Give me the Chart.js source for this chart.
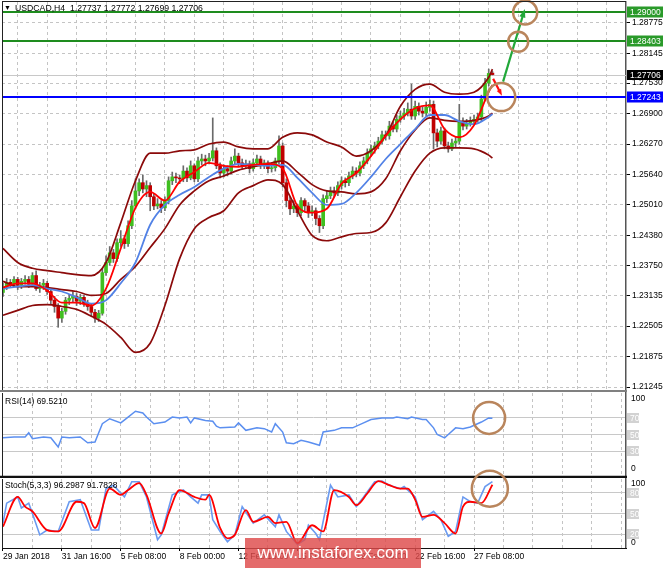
<!DOCTYPE html>
<html><head><meta charset="utf-8">
<script src="https://cdn.jsdelivr.net/npm/chart.js@4.4.1/dist/chart.umd.min.js"></script>
<style>
html,body{margin:0;padding:0;background:#fff;}
#wrap{position:relative;width:665px;height:568px;overflow:hidden;background:#fff;}
canvas{position:absolute;left:0;}
#wm{position:absolute;left:245px;top:538px;width:176px;height:30px;background:rgba(222,74,74,0.82);color:#fff;font:17px 'Liberation Sans',Arial,sans-serif;text-align:center;line-height:30px;}
</style></head>
<body><div id="wrap">
<canvas id="cMain" width="665" height="392" style="top:0"></canvas>
<canvas id="cRsi" width="665" height="86" style="top:391px"></canvas>
<canvas id="cSto" width="665" height="108" style="top:460px"></canvas>
<div id="wm">www.instaforex.com</div>
</div>
<script>
// ---------------- DATA ----------------
const symbolTitle = 'USDCAD,H4  1.27737 1.27772 1.27699 1.27706';
const timeLabels = ['29 Jan 2018','31 Jan 16:00','5 Feb 08:00','8 Feb 00:00','12 Feb 16:00','15 Feb 08:00','19 Feb 00:00','22 Feb 16:00','27 Feb 08:00'];
const timeLabelBars = [0,16,32,48,64,80,96,112,128];
const gridBars = [0,8,16,24,32,40,48,56,64,72,80,88,96,104,112,120,128,136,144,152,160,168];
const priceTicks = [1.28775,1.28145,1.27530,1.26900,1.26270,1.25640,1.25010,1.24380,1.23750,1.23135,1.22505,1.21875,1.21245];
const greenLevels = [1.29000,1.28403];
const blueLevels = [1.27243];
const lastPrice = 1.27706;

const opens = [1.2320,1.2332,1.2341,1.2337,1.2347,1.2335,1.2343,1.2347,1.2337,1.2355,1.2328,1.2335,1.2339,1.2322,1.2304,1.2291,1.2267,1.2281,1.2304,1.2308,
1.2312,1.2302,1.2310,1.2297,1.2291,1.2279,1.2267,1.2277,1.2361,1.2382,1.2402,1.2390,1.2423,1.2431,1.2421,1.2458,1.2499,1.2530,1.2547,1.2534,
1.2541,1.2518,1.2499,1.2503,1.2495,1.2510,1.2551,1.2559,1.2557,1.2555,1.2571,1.2557,1.2582,1.2555,1.2592,1.2596,1.2592,1.2598,1.2613,1.2582,
1.2567,1.2576,1.2571,1.2592,1.2602,1.2588,1.2582,1.2586,1.2576,1.2588,1.2596,1.2582,1.2588,1.2576,1.2578,1.2592,1.2623,1.2547,1.2510,1.2493,
1.2499,1.2485,1.2510,1.2499,1.2485,1.2489,1.2473,1.2458,1.2514,1.2520,1.2530,1.2526,1.2541,1.2551,1.2547,1.2561,1.2571,1.2567,1.2582,1.2592,
1.2608,1.2617,1.2623,1.2633,1.2646,1.2644,1.2664,1.2658,1.2678,1.2685,1.2691,1.2699,1.2685,1.2705,1.2695,1.2691,1.2703,1.2709,1.2650,1.2633,
1.2654,1.2623,1.2617,1.2629,1.2633,1.2674,1.2664,1.2670,1.2674,1.2678,1.2683,1.2720,1.2753,1.27737];
const highs = [1.2339,1.2349,1.2347,1.2353,1.2351,1.2349,1.2355,1.2353,1.2361,1.2365,1.2341,1.2347,1.2343,1.2326,1.2312,1.2297,1.2287,1.2310,1.2316,1.2322,
1.2318,1.2316,1.2314,1.2304,1.2297,1.2285,1.2283,1.2370,1.2396,1.2415,1.2409,1.2431,1.2448,1.2438,1.2468,1.2510,1.2555,1.2555,1.2563,1.2551,
1.2547,1.2524,1.2514,1.2510,1.2518,1.2559,1.2569,1.2567,1.2563,1.2582,1.2578,1.2592,1.2586,1.2600,1.2606,1.2604,1.2608,1.2681,1.2619,1.2588,
1.2584,1.2582,1.2600,1.2617,1.2608,1.2596,1.2594,1.2592,1.2596,1.2604,1.2602,1.2594,1.2592,1.2586,1.2598,1.2644,1.2629,1.2555,1.2518,1.2510,
1.2503,1.2516,1.2514,1.2506,1.2499,1.2495,1.2479,1.2522,1.2530,1.2538,1.2538,1.2549,1.2559,1.2557,1.2569,1.2580,1.2578,1.2590,1.2600,1.2617,
1.2625,1.2631,1.2641,1.2654,1.2654,1.2674,1.2672,1.2687,1.2695,1.2701,1.2712,1.2751,1.2716,1.2712,1.2703,1.2714,1.2718,1.2716,1.2658,1.2662,
1.2660,1.2631,1.2637,1.2641,1.2709,1.2681,1.2678,1.2683,1.2687,1.2691,1.2728,1.2763,1.2782,1.27772];
const lows = [1.2312,1.2326,1.2330,1.2332,1.2326,1.2328,1.2337,1.2330,1.2332,1.2324,1.2320,1.2326,1.2316,1.2295,1.2279,1.2248,1.2258,1.2275,1.2295,1.2299,
1.2293,1.2295,1.2291,1.2283,1.2271,1.2258,1.2260,1.2273,1.2355,1.2376,1.2382,1.2384,1.2415,1.2411,1.2415,1.2452,1.2493,1.2520,1.2526,1.2518,
1.2489,1.2491,1.2493,1.2485,1.2489,1.2503,1.2543,1.2547,1.2545,1.2549,1.2549,1.2553,1.2549,1.2549,1.2584,1.2582,1.2586,1.2592,1.2576,1.2557,
1.2559,1.2561,1.2565,1.2586,1.2580,1.2576,1.2576,1.2567,1.2571,1.2582,1.2576,1.2576,1.2567,1.2569,1.2571,1.2586,1.2538,1.2497,1.2481,1.2485,
1.2477,1.2479,1.2489,1.2475,1.2479,1.2460,1.2444,1.2452,1.2506,1.2514,1.2518,1.2520,1.2534,1.2538,1.2541,1.2555,1.2559,1.2561,1.2576,1.2586,
1.2602,1.2608,1.2617,1.2627,1.2635,1.2637,1.2652,1.2652,1.2672,1.2678,1.2685,1.2678,1.2678,1.2687,1.2683,1.2685,1.2695,1.2617,1.2621,1.2627,
1.2617,1.2610,1.2613,1.2621,1.2627,1.2656,1.2658,1.2664,1.2668,1.2672,1.2674,1.2716,1.2747,1.27699];
const closes = [1.2332,1.2341,1.2337,1.2347,1.2335,1.2343,1.2347,1.2337,1.2355,1.2328,1.2335,1.2339,1.2322,1.2304,1.2291,1.2267,1.2281,1.2304,1.2308,1.2312,
1.2302,1.2310,1.2297,1.2291,1.2279,1.2267,1.2277,1.2361,1.2382,1.2402,1.2390,1.2423,1.2431,1.2421,1.2458,1.2499,1.2530,1.2547,1.2534,1.2541,
1.2518,1.2499,1.2503,1.2495,1.2510,1.2551,1.2559,1.2557,1.2555,1.2571,1.2557,1.2582,1.2555,1.2592,1.2596,1.2592,1.2598,1.2613,1.2582,1.2567,
1.2576,1.2571,1.2592,1.2602,1.2588,1.2582,1.2586,1.2576,1.2588,1.2596,1.2582,1.2588,1.2576,1.2578,1.2592,1.2623,1.2547,1.2510,1.2493,1.2499,
1.2485,1.2510,1.2499,1.2485,1.2489,1.2473,1.2458,1.2514,1.2520,1.2530,1.2526,1.2541,1.2551,1.2547,1.2561,1.2571,1.2567,1.2582,1.2592,1.2608,
1.2617,1.2623,1.2633,1.2646,1.2644,1.2664,1.2658,1.2678,1.2685,1.2691,1.2699,1.2685,1.2705,1.2695,1.2691,1.2703,1.2709,1.2650,1.2633,1.2654,
1.2623,1.2617,1.2629,1.2633,1.2674,1.2664,1.2670,1.2674,1.2678,1.2683,1.2720,1.2753,1.2773,1.27706];

const indBars = [0,4,8,12,16,20,24,28,32,36,40,44,48,52,56,60,64,68,72,76,80,84,88,92,96,100,104,108,112,116,120,124,128,132,133];
const bbUpper = [1.2411,1.2382,1.2370,1.2365,1.2361,1.2357,1.2355,1.2382,1.2464,1.2551,1.2608,1.2608,1.2613,1.2615,1.2627,1.2631,1.2621,1.2617,1.2617,1.2641,1.2650,1.2646,1.2631,1.2621,1.2602,1.2613,1.2644,1.2705,1.2740,1.2751,1.2734,1.2730,1.2734,1.2765,1.2782];
const bbMiddle = [1.2343,1.2332,1.2332,1.2330,1.2326,1.2322,1.2314,1.2318,1.2347,1.2374,1.2413,1.2452,1.2501,1.2530,1.2551,1.2561,1.2573,1.2580,1.2586,1.2592,1.2569,1.2543,1.2530,1.2528,1.2524,1.2528,1.2555,1.2613,1.2656,1.2681,1.2676,1.2674,1.2676,1.2685,1.2691];
const bbLower = [1.2273,1.2283,1.2293,1.2295,1.2291,1.2285,1.2271,1.2254,1.2227,1.2196,1.2215,1.2293,1.2390,1.2452,1.2475,1.2489,1.2526,1.2541,1.2553,1.2543,1.2489,1.2438,1.2427,1.2435,1.2442,1.2444,1.2464,1.2518,1.2571,1.2608,1.2619,1.2619,1.2617,1.2604,1.2598];
const maSlow = [1.2328,1.2332,1.2335,1.2328,1.2322,1.2310,1.2297,1.2304,1.2339,1.2382,1.2460,1.2501,1.2522,1.2538,1.2559,1.2576,1.2586,1.2584,1.2582,1.2584,1.2557,1.2526,1.2501,1.2503,1.2526,1.2559,1.2596,1.2627,1.2658,1.2687,1.2687,1.2674,1.2668,1.2683,1.2689];
const maFast = [1.2330,1.2339,1.2339,1.2324,1.2299,1.2299,1.2293,1.2328,1.2411,1.2495,1.2528,1.2510,1.2549,1.2569,1.2588,1.2582,1.2580,1.2584,1.2586,1.2576,1.2499,1.2485,1.2493,1.2545,1.2567,1.2602,1.2644,1.2678,1.2701,1.2707,1.2658,1.2641,1.2666,1.2735,1.2749];

const rsiBars = [0,3,6,7,8,11,13,15,16,18,21,23,25,27,29,32,34,36,38,39,41,44,46,48,50,51,52,55,57,58,59,63,64,66,69,71,73,74,76,77,79,81,83,86,87,90,92,95,98,100,103,106,107,110,111,114,115,117,118,120,121,123,125,127,130,132,133];
const rsiValues = [46,47,47,52,45,47,46,35,47,46,47,40,41,63,69,64,71,78,76,71,63,65,71,70,71,64,70,67,66,60,58,59,64,55,58,57,53,63,53,40,39,43,41,37,53,55,58,58,64,68,70,70,71,69,71,68,68,58,50,46,50,58,57,59,65,70,69.5210];
const rsiLevels = [70,50,30];

const stochKBars = [0,1,4,5,7,8,10,12,15,18,21,24,26,28,30,33,35,37,39,42,43,46,49,51,53,54,56,57,59,61,63,65,68,71,74,75,77,80,82,83,85,86,89,91,94,96,98,101,103,105,108,109,112,114,117,119,121,123,125,127,129,131,133];
const stochK = [36,65,74,58,65,50,19,26,24,67,70,26,26,86,91,74,96,96,74,12,19,77,84,74,65,77,77,41,24,9,19,60,36,48,31,48,24,5,12,33,21,12,91,74,77,60,74,96,97,91,86,89,74,41,53,41,17,24,74,67,65,89,96.2987];
const stochDBars = [0,4,6,8,12,15,20,22,25,29,32,34,37,39,43,45,48,52,55,56,59,61,63,66,68,72,74,77,80,84,87,90,94,96,99,102,105,108,110,112,114,117,120,123,125,127,130,133];
const stochD = [31,74,60,53,26,24,67,65,29,86,77,84,94,77,21,50,84,74,70,77,29,14,19,55,38,45,36,38,7,33,24,84,74,62,79,97,91,86,86,70,45,48,36,21,60,67,65,91.7828];
const stochLevels = [80,50,20];

// hand-drawn marks, in (bar, value) coordinates
const circlesMain = [[141.9,1.2899,12],[140.0,1.28385,10],[135.4,1.2724,14]];
const greenArrow = [135.9,1.2756,141.8,1.2906];
const redArrow = [133.2,1.2762,135.6,1.2727];
const rsiCircle = [132.1,70,16];
const stochCircle = [132.3,86,18];

// ---------------- SETUP ----------------
const FONT = "'Liberation Sans', Arial, sans-serif";
Chart.defaults.font.family = FONT;
Chart.defaults.font.size = 8.5;
Chart.defaults.color = '#000';
Chart.defaults.animation = false;
const X_MIN = -0.27, X_MAX = 169.3;
const GRID = '#c4c4c4';
const BULL = '#3fbf1f', BEAR = '#c00000', WICK = '#6a6a6a', BROWN = '#b9855c';

const pts = (xs, ys) => xs.map((b, k) => ({x: b, y: ys[k]}));
const noPad = s => { s.paddingTop = 0; s.paddingBottom = 0; s.paddingLeft = 0; s.paddingRight = 0; };
const xGridScale = (extra) => Object.assign({
  type: 'linear', min: X_MIN, max: X_MAX, offset: false,
  afterBuildTicks: s => { s.ticks = gridBars.map(v => ({value: v})); },
  afterFit: s => { s.height = 0; noPad(s); },
  ticks: {display: false},
  grid: {color: c => (c.tick && c.tick.value === 0) ? 'rgba(0,0,0,0)' : GRID, drawTicks: false, lineWidth: 1},
  border: {display: false, dash: [3, 3]}
}, extra || {});

function circle(ctx, x, y, r) {
  ctx.save(); ctx.strokeStyle = BROWN; ctx.lineWidth = 2.5;
  ctx.beginPath(); ctx.arc(x, y, r, 0, Math.PI * 2); ctx.stroke(); ctx.restore();
}
function arrow(ctx, x1, y1, x2, y2, color, w, head) {
  ctx.save(); ctx.strokeStyle = color; ctx.fillStyle = color; ctx.lineWidth = w;
  const ang = Math.atan2(y2 - y1, x2 - x1);
  const bx = x2 - head * 0.8 * Math.cos(ang), by = y2 - head * 0.8 * Math.sin(ang);
  ctx.beginPath(); ctx.moveTo(x1, y1); ctx.lineTo(bx, by); ctx.stroke();
  ctx.beginPath(); ctx.moveTo(x2, y2);
  ctx.lineTo(x2 - head * Math.cos(ang - 0.35), y2 - head * Math.sin(ang - 0.35));
  ctx.lineTo(x2 - head * Math.cos(ang + 0.35), y2 - head * Math.sin(ang + 0.35));
  ctx.closePath(); ctx.fill(); ctx.restore();
}
function labelBox(ctx, text, y, bg, fg, w, h) {
  h = h || 10;
  ctx.save();
  ctx.fillStyle = bg; ctx.fillRect(627, Math.round(y) - h / 2, w, h);
  ctx.fillStyle = fg; ctx.font = '8.5px ' + FONT; ctx.textBaseline = 'middle'; ctx.textAlign = 'left';
  ctx.fillText(text, 630, Math.round(y) + 0.5);
  ctx.restore();
}
function frame(ctx, a) {
  ctx.save(); ctx.strokeStyle = '#222'; ctx.lineWidth = 1;
  ctx.beginPath(); ctx.moveTo(a.left + 0.5, a.top); ctx.lineTo(a.left + 0.5, a.bottom); ctx.stroke();
  ctx.restore();
}

// ---------------- MAIN PRICE CHART ----------------
const mainDecor = {
  id: 'mainDecor',
  beforeDatasetsDraw(chart) {
    const {ctx, chartArea: a, scales: {y}} = chart;
    ctx.save();
    const py = Math.round(y.getPixelForValue(lastPrice)) + 0.5;
    ctx.strokeStyle = '#c8c8c8'; ctx.lineWidth = 1;
    ctx.beginPath(); ctx.moveTo(a.left, py); ctx.lineTo(a.right, py); ctx.stroke();
    ctx.restore();
  },
  afterDatasetsDraw(chart) {
    const {ctx, chartArea: a, scales: {x, y}} = chart;
    ctx.save();
    ctx.lineWidth = 2;
    greenLevels.forEach(v => {
      const py = Math.round(y.getPixelForValue(v));
      ctx.strokeStyle = '#1e8c1e';
      ctx.beginPath(); ctx.moveTo(a.left, py); ctx.lineTo(a.right, py); ctx.stroke();
    });
    blueLevels.forEach(v => {
      const py = Math.round(y.getPixelForValue(v));
      ctx.strokeStyle = '#0000ff';
      ctx.beginPath(); ctx.moveTo(a.left, py); ctx.lineTo(a.right, py); ctx.stroke();
    });
    ctx.restore();
    // hand-drawn annotations
    arrow(ctx, x.getPixelForValue(greenArrow[0]), y.getPixelForValue(greenArrow[1]),
      x.getPixelForValue(greenArrow[2]), y.getPixelForValue(greenArrow[3]), '#22a83a', 2.2, 9);
    arrow(ctx, x.getPixelForValue(redArrow[0]), y.getPixelForValue(redArrow[1]),
      x.getPixelForValue(redArrow[2]), y.getPixelForValue(redArrow[3]), '#ff1010', 2.2, 7);
    circlesMain.forEach(c => circle(ctx, x.getPixelForValue(c[0]), y.getPixelForValue(c[1]), c[2]));
    frame(ctx, a);
    ctx.save(); ctx.strokeStyle = '#222'; ctx.lineWidth = 1;
    ctx.beginPath(); ctx.moveTo(a.left, 1.5); ctx.lineTo(a.right, 1.5); ctx.stroke();
    ctx.strokeStyle = '#808080'; ctx.lineWidth = 2;
    ctx.beginPath(); ctx.moveTo(0, 391); ctx.lineTo(a.right + 1, 391); ctx.stroke();
    ctx.restore();
    // axis highlight labels
    greenLevels.forEach(v => labelBox(ctx, v.toFixed(5), y.getPixelForValue(v), '#2a9a2a', '#fff', 36, 11));
    labelBox(ctx, lastPrice.toFixed(5), y.getPixelForValue(lastPrice), '#000', '#fff', 36, 10);
    blueLevels.forEach(v => labelBox(ctx, v.toFixed(5), y.getPixelForValue(v), '#0000ff', '#fff', 36, 11));
    // title
    ctx.save(); ctx.fillStyle = '#000'; ctx.textBaseline = 'middle';
    ctx.font = '7px ' + FONT; ctx.fillText('▼', 4, 8.5);
    ctx.font = '8.7px ' + FONT; ctx.fillText(symbolTitle, 15, 8.5);
    ctx.restore();
  }
};

new Chart(document.getElementById('cMain'), {
  data: {
    datasets: [
      {type: 'bar', data: closes.map((c, i) => ({x: i, y: [lows[i], highs[i]]})),
        backgroundColor: WICK, barThickness: 1, grouped: false, order: 6},
      {type: 'bar', data: closes.map((c, i) => ({x: i, y: [opens[i], c]})),
        backgroundColor: closes.map((c, i) => c >= opens[i] ? BULL : BEAR),
        borderWidth: 0, barThickness: 3, grouped: false, order: 5},
      {type: 'line', data: pts(indBars, bbUpper), borderColor: '#8b0a0a', borderWidth: 1.7, pointRadius: 0, cubicInterpolationMode: 'monotone', order: 3},
      {type: 'line', data: pts(indBars, bbMiddle), borderColor: '#8b0a0a', borderWidth: 1.7, pointRadius: 0, cubicInterpolationMode: 'monotone', order: 3},
      {type: 'line', data: pts(indBars, bbLower), borderColor: '#8b0a0a', borderWidth: 1.7, pointRadius: 0, cubicInterpolationMode: 'monotone', order: 3},
      {type: 'line', data: pts(indBars, maSlow), borderColor: '#5282e6', borderWidth: 1.8, pointRadius: 0, cubicInterpolationMode: 'monotone', order: 2},
      {type: 'line', data: pts(indBars, maFast), borderColor: '#ff0000', borderWidth: 1.8, pointRadius: 0, cubicInterpolationMode: 'monotone', order: 1}
    ]
  },
  options: {
    responsive: false, animation: false, events: [],
    layout: {padding: {left: 2, top: 2, right: 0, bottom: 2}},
    plugins: {legend: {display: false}, tooltip: {enabled: false}},
    scales: {
      x: xGridScale(),
      y: {
        position: 'right', min: 1.21183, max: 1.29207,
        afterBuildTicks: s => { s.ticks = priceTicks.map(v => ({value: v})); },
        afterFit: s => { s.width = 39; noPad(s); },
        ticks: {callback: v => Number(v).toFixed(5), padding: 2, color: '#000', font: {size: 8.5}},
        grid: {color: GRID, tickLength: 4, tickColor: '#000', tickBorderDash: [], drawTicks: true},
        border: {display: true, color: '#555', width: 1.5, dash: [3, 3]}
      }
    }
  },
  plugins: [mainDecor]
});

// ---------------- RSI ----------------
const rsiDecor = {
  id: 'rsiDecor',
  afterDatasetsDraw(chart) {
    const {ctx, chartArea: a, scales: {x, y}} = chart;
    frame(ctx, a);
    ctx.save(); ctx.fillStyle = '#000'; ctx.textBaseline = 'middle'; ctx.font = '8.5px ' + FONT;
    ctx.fillText('RSI(14) ' + rsiValues[rsiValues.length - 1].toFixed(4), 5, a.top + 9);
    ctx.fillText('100', 631, y.getPixelForValue(100) + 6);
    ctx.fillText('0', 631, y.getPixelForValue(0) - 7);
    ctx.restore();
    rsiLevels.forEach(v => labelBox(ctx, String(v), y.getPixelForValue(v), '#d2d2d2', '#fff', 12, 10));
    circle(ctx, x.getPixelForValue(rsiCircle[0]), y.getPixelForValue(rsiCircle[1]), rsiCircle[2]);
    ctx.save(); ctx.strokeStyle = '#111'; ctx.lineWidth = 1.5;
    ctx.beginPath(); ctx.moveTo(0, a.bottom + 0.5); ctx.lineTo(a.right + 1, a.bottom + 0.5); ctx.stroke();
    ctx.restore();
  }
};
new Chart(document.getElementById('cRsi'), {
  data: {datasets: [
    {type: 'line', data: pts(rsiBars, rsiValues), borderColor: '#5b8ff0', borderWidth: 1.5, pointRadius: 0, tension: 0}
  ]},
  options: {
    responsive: false, animation: false, events: [],
    layout: {padding: {left: 2, top: 2, right: 0, bottom: 1}},
    plugins: {legend: {display: false}, tooltip: {enabled: false}},
    scales: {
      x: xGridScale(),
      y: {position: 'right', min: 0, max: 100,
        afterBuildTicks: s => { s.ticks = rsiLevels.map(v => ({value: v})); },
        afterFit: s => { s.width = 39; noPad(s); },
        ticks: {display: false},
        grid: {color: '#c8c8c8', drawTicks: false},
        border: {display: true, color: '#555', width: 1.5}
      }
    }
  },
  plugins: [rsiDecor]
});

// ---------------- STOCHASTIC ----------------
const stoDecor = {
  id: 'stoDecor',
  afterDatasetsDraw(chart) {
    const {ctx, chartArea: a, scales: {x, y}} = chart;
    frame(ctx, a);
    ctx.save(); ctx.strokeStyle = '#111'; ctx.lineWidth = 1;
    ctx.beginPath(); ctx.moveTo(0, a.top - 1.5); ctx.lineTo(a.right + 1, a.top - 1.5); ctx.stroke();
    ctx.beginPath(); ctx.moveTo(a.left, a.bottom + 0.5); ctx.lineTo(a.right + 1, a.bottom + 0.5); ctx.stroke();
    ctx.fillStyle = '#000'; ctx.textBaseline = 'middle'; ctx.font = '8.5px ' + FONT;
    ctx.fillText('Stoch(5,3,3) ' + stochK[stochK.length - 1].toFixed(4) + ' ' + stochD[stochD.length - 1].toFixed(4), 5, a.top + 7);
    ctx.fillText('100', 631, y.getPixelForValue(100) + 5);
    ctx.fillText('0', 631, y.getPixelForValue(0) - 5);
    ctx.restore();
    stochLevels.forEach(v => labelBox(ctx, String(v), y.getPixelForValue(v), '#d2d2d2', '#fff', 12, 10));
    circle(ctx, x.getPixelForValue(stochCircle[0]), y.getPixelForValue(stochCircle[1]), stochCircle[2]);
  }
};
new Chart(document.getElementById('cSto'), {
  data: {datasets: [
    {type: 'line', data: pts(stochKBars, stochK), borderColor: '#6a9af0', borderWidth: 1.6, pointRadius: 0, tension: 0, order: 2},
    {type: 'line', data: pts(stochDBars, stochD), borderColor: '#ff0000', borderWidth: 1.8, pointRadius: 0, cubicInterpolationMode: 'monotone', order: 1}
  ]},
  options: {
    responsive: false, animation: false, events: [],
    layout: {padding: {left: 2, top: 19, right: 0, bottom: 0}},
    plugins: {legend: {display: false}, tooltip: {enabled: false}},
    scales: {
      x: xGridScale({
        afterFit: s => { s.height = 20; noPad(s); },
        ticks: {display: true, autoSkip: false, maxRotation: 0, minRotation: 0, align: 'start', padding: 1,
          color: '#000', font: {size: 8.5},
          callback: v => { const k = timeLabelBars.indexOf(v); return k >= 0 ? timeLabels[k] : ''; }},
        grid: {color: c => (c.tick && c.tick.value === 0) ? 'rgba(0,0,0,0)' : GRID, drawTicks: true, tickLength: 3,
          tickColor: c => (c.tick && timeLabelBars.includes(c.tick.value)) ? '#000' : 'rgba(0,0,0,0)', tickBorderDash: []}
      }),
      y: {position: 'right', min: 0, max: 100,
        afterBuildTicks: s => { s.ticks = stochLevels.map(v => ({value: v})); },
        afterFit: s => { s.width = 39; noPad(s); },
        ticks: {display: false},
        grid: {color: '#c8c8c8', drawTicks: false},
        border: {display: true, color: '#555', width: 1.5}
      }
    }
  },
  plugins: [stoDecor]
});
</script>
</body></html>
